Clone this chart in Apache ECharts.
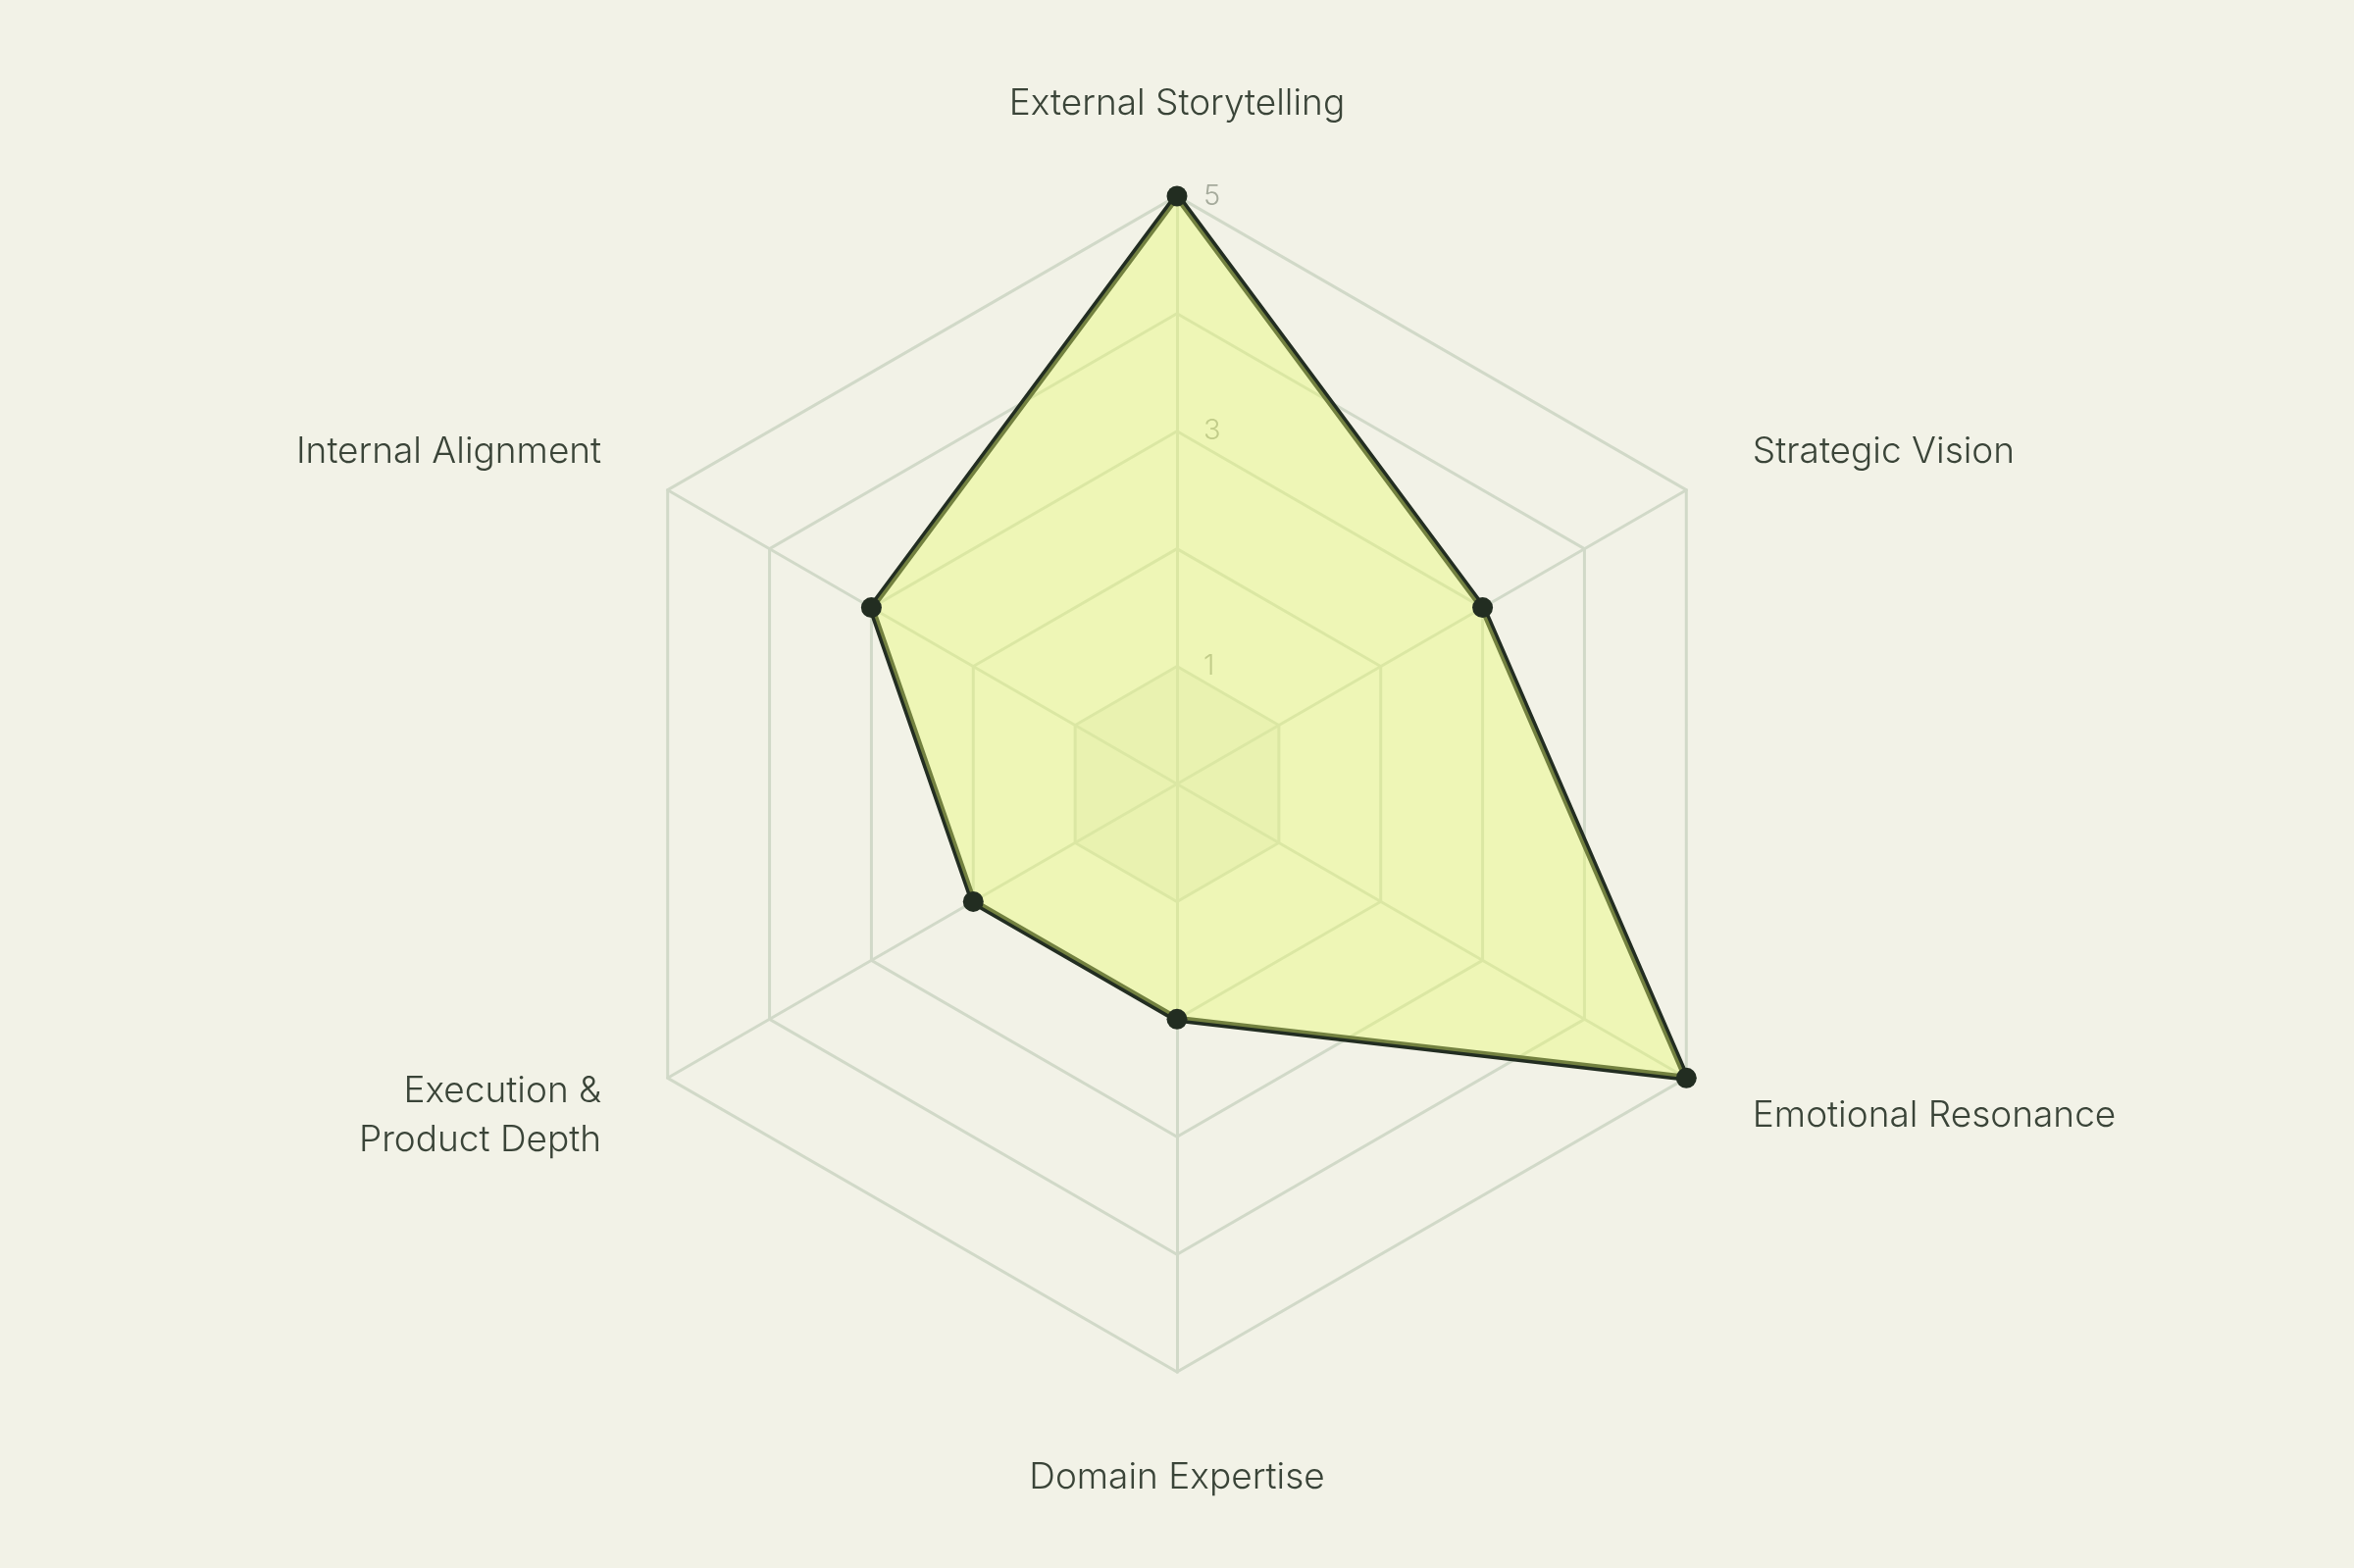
<!DOCTYPE html>
<html><head><meta charset="utf-8">
<script src="https://cdn.jsdelivr.net/npm/echarts@6/dist/echarts.min.js"></script>
<style>html,body{margin:0;padding:0;background:#F2F2E7;}#c{width:2400px;height:1599px;}</style>
</head><body><div id="c"></div>
<script>
// Indicators in ECharts order (counter-clockwise starting at the top)
const indicatorNames = ['External Storytelling', 'Internal Alignment', 'Execution &\nProduct Depth', 'Domain Expertise', 'Emotional Resonance', 'Strategic Vision'];
const scores = [5, 3, 2, 2, 5, 3];
const maxScore = 5;
const shownTicks = [1, 3, 5];

const FONT = "'Inter Light', Inter";
const nameBase = { color: '#3A4438', fontFamily: FONT, fontWeight: 300, fontSize: 37 };

const chart = echarts.init(document.getElementById('c'));
const indicators = indicatorNames.map((n, i) => {
  const o = { name: n, max: maxScore, min: 0 };
  if (i === 0) o.axisLabel = { show: true };
  return o;
});
chart.setOption({
  backgroundColor: '#F2F2E7',
  radar: {
    center: ['50%', '50%'],
    radius: '75%',
    startAngle: 90,
    splitNumber: 5,
    shape: 'polygon',
    nameGap: 78,
    indicator: indicators,
    axisName: Object.assign({}, nameBase, {
      lineHeight: 32,
      formatter: function (name) {
        let key = 'n';
        if (name.indexOf('\n') >= 0) key = 'm';
        else if (name === 'Domain Expertise') key = 'd';
        return name.split('\n').map(s => '{' + key + '|' + s + '}').join('\n');
      },
      rich: {
        n: Object.assign({}, nameBase, { lineHeight: 32 }),
        m: Object.assign({}, nameBase, { lineHeight: 50 }),
        d: Object.assign({}, nameBase, { lineHeight: 32, padding: [27, 0, 0, 0] })
      }
    }),
    axisLine: { lineStyle: { color: '#D1D9C8', width: 3 } },
    splitLine: { lineStyle: { color: '#D1D9C8', width: 3 } },
    splitArea: { show: true, areaStyle: { color: ['rgba(120,130,60,0.06)', 'rgba(0,0,0,0)', 'rgba(0,0,0,0)', 'rgba(0,0,0,0)', 'rgba(0,0,0,0)'] } },
    axisTick: { show: false },
    axisLabel: {
      show: false, margin: -27, align: 'left', color: '#A6AB9C', fontFamily: FONT, fontWeight: 300, fontSize: 29,
      formatter: v => shownTicks.indexOf(v) >= 0 ? String(v) : ''
    }
  },
  series: [{
    type: 'radar',
    symbol: 'circle',
    symbolSize: 21,
    itemStyle: { color: '#222D21' },
    lineStyle: { color: '#222D21', width: 7 },
    areaStyle: { color: 'rgba(234,252,110,0.58)' },
    data: [{ value: scores }]
  }]
});
</script></body></html>
